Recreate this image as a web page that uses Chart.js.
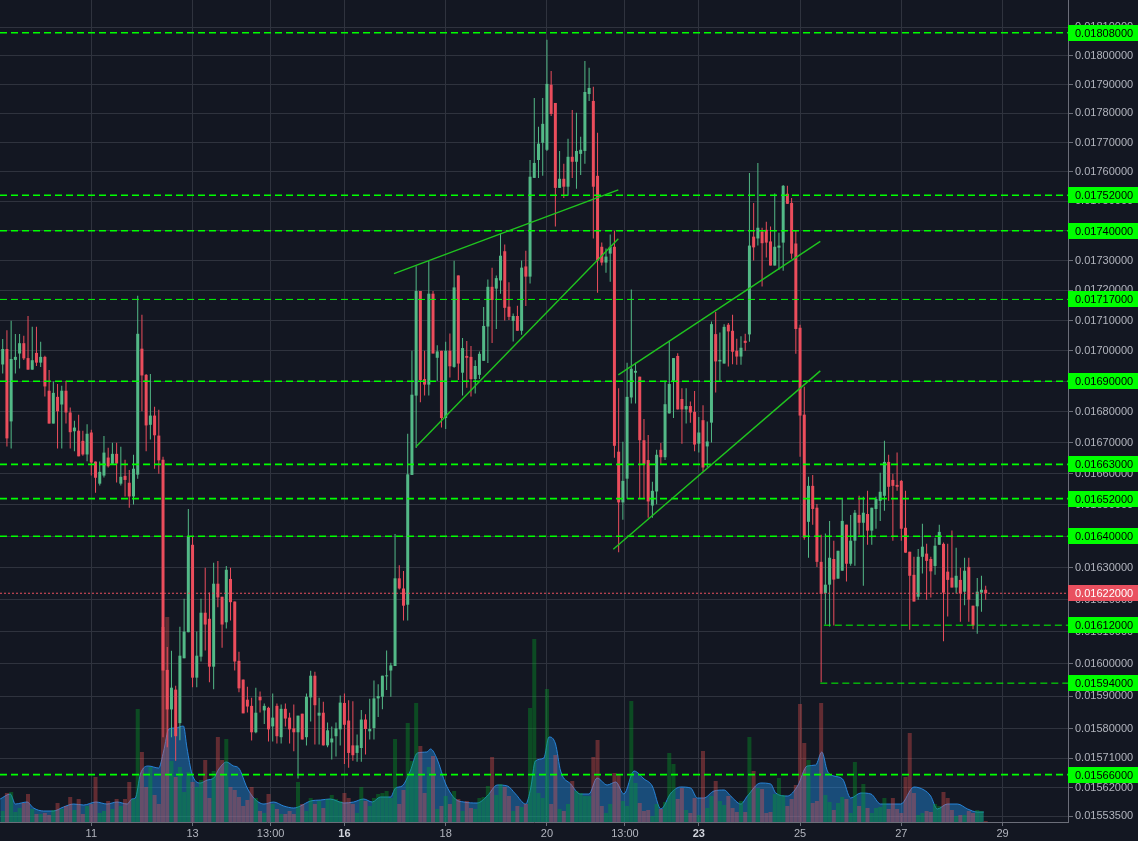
<!DOCTYPE html>
<html lang="en">
<head>
<meta charset="utf-8">
<title>Candles</title>
<script src="https://cdn.jsdelivr.net/npm/chart.js@4.4.1/dist/chart.umd.min.js"></script>
<style>
  html, body { margin: 0; padding: 0; background: #131722; overflow: hidden; }
  #chart { display: block; }
</style>
</head>
<body>
<canvas id="chart" width="1138" height="841"></canvas>
<script>
// -------------- DATA ------------------

// 2h candles, the first one opens on day 9 at 06:00
const firstCandleDay = 9.25;
const candleStep = 1 / 12;

// [open, high, low, close]
const ohlc = [
  [0.016955,0.017039,0.016925,0.017006], [0.017006,0.017068,0.016688,0.016714], [0.016769,0.017099,0.016681,0.016973],
  [0.016970,0.017055,0.016925,0.016980], [0.016991,0.017055,0.016942,0.017025], [0.017025,0.017050,0.016970,0.016975],
  [0.016976,0.017115,0.016938,0.016938], [0.016938,0.017079,0.016938,0.016969], [0.016993,0.017079,0.016950,0.016961],
  [0.016961,0.017030,0.016947,0.016980], [0.016980,0.016984,0.016850,0.016883], [0.016869,0.016937,0.016762,0.016762],
  [0.016762,0.016899,0.016762,0.016862], [0.016849,0.016891,0.016681,0.016802], [0.016824,0.016885,0.016681,0.016869],
  [0.016869,0.016902,0.016762,0.016798], [0.016798,0.016814,0.016681,0.016734], [0.016737,0.016771,0.016672,0.016749],
  [0.016739,0.016791,0.016656,0.016656], [0.016706,0.016739,0.016658,0.016662], [0.016662,0.016760,0.016640,0.016729],
  [0.016733,0.016742,0.016594,0.016636], [0.016639,0.016639,0.016539,0.016587], [0.016568,0.016639,0.016562,0.016606],
  [0.016594,0.016722,0.016588,0.016668], [0.016652,0.016684,0.016620,0.016624], [0.016632,0.016700,0.016629,0.016664],
  [0.016664,0.016700,0.016572,0.016633], [0.016568,0.016687,0.016562,0.016590], [0.016593,0.016645,0.016527,0.016580],
  [0.016571,0.016612,0.016491,0.016527], [0.016527,0.016661,0.016501,0.016616], [0.016597,0.017182,0.016584,0.017056],
  [0.017007,0.017119,0.016802,0.016919], [0.016921,0.016924,0.016672,0.016756], [0.016758,0.016924,0.016710,0.016788],
  [0.016788,0.016817,0.016616,0.016724], [0.016723,0.016807,0.016600,0.016643], [0.016645,0.016655,0.015774,0.015979],
  [0.015981,0.016052,0.015743,0.015859], [0.015859,0.016040,0.015774,0.015926], [0.015920,0.015932,0.015702,0.015777],
  [0.015817,0.016115,0.015765,0.016025], [0.016017,0.016203,0.016017,0.016100], [0.016098,0.016487,0.016098,0.016399],
  [0.016373,0.016399,0.015927,0.015957], [0.015957,0.016100,0.015927,0.016025], [0.016022,0.016203,0.016007,0.016159],
  [0.016159,0.016300,0.016041,0.016122], [0.016140,0.016222,0.015943,0.015991], [0.015991,0.016316,0.015921,0.016250],
  [0.016250,0.016322,0.016176,0.016207], [0.016209,0.016209,0.016050,0.016122], [0.016129,0.016306,0.016110,0.016294],
  [0.016265,0.016300,0.016135,0.016192], [0.016194,0.016194,0.015979,0.016007], [0.016009,0.016037,0.015912,0.015924],
  [0.015951,0.015951,0.015847,0.015847], [0.015889,0.015929,0.015850,0.015868], [0.015870,0.015895,0.015764,0.015789],
  [0.015789,0.015926,0.015786,0.015849], [0.015898,0.015914,0.015850,0.015887], [0.015856,0.015877,0.015814,0.015870],
  [0.015864,0.015867,0.015761,0.015798], [0.015807,0.015908,0.015761,0.015834], [0.015870,0.015877,0.015755,0.015777],
  [0.015774,0.015874,0.015755,0.015861], [0.015861,0.015877,0.015807,0.015831], [0.015834,0.015849,0.015755,0.015798],
  [0.015801,0.015874,0.015731,0.015789], [0.015789,0.015840,0.015648,0.015840], [0.015846,0.015846,0.015767,0.015767],
  [0.015774,0.015908,0.015749,0.015898], [0.015896,0.015978,0.015822,0.015963], [0.015963,0.015975,0.015752,0.015872],
  [0.015840,0.015895,0.015752,0.015849], [0.015849,0.015883,0.015749,0.015749], [0.015749,0.015819,0.015743,0.015795],
  [0.015758,0.015807,0.015706,0.015770], [0.015777,0.015819,0.015715,0.015801], [0.015798,0.015902,0.015749,0.015880],
  [0.015879,0.015908,0.015692,0.015812], [0.015825,0.015887,0.015681,0.015726], [0.015749,0.015884,0.015702,0.015719],
  [0.015726,0.015782,0.015699,0.015749], [0.015741,0.015857,0.015699,0.015828], [0.015828,0.015844,0.015721,0.015799],
  [0.015792,0.015892,0.015767,0.015799], [0.015802,0.015948,0.015767,0.015893], [0.015893,0.015937,0.015836,0.015900],
  [0.015898,0.015963,0.015860,0.015963], [0.015961,0.016041,0.015919,0.015963], [0.015979,0.016003,0.015898,0.015995],
  [0.015993,0.016407,0.015993,0.016267], [0.016267,0.016308,0.016232,0.016235], [0.016235,0.016290,0.016135,0.016181],
  [0.016184,0.016729,0.016135,0.016598], [0.016596,0.017000,0.016596,0.016856], [0.016853,0.017281,0.016683,0.017198],
  [0.017198,0.017198,0.016831,0.016904], [0.016907,0.017000,0.016853,0.016889], [0.016889,0.017299,0.016853,0.017189],
  [0.017189,0.017198,0.016991,0.016991], [0.016977,0.017018,0.016901,0.016998], [0.017000,0.017000,0.016749,0.016780],
  [0.016780,0.017030,0.016744,0.017000], [0.017000,0.017057,0.016912,0.016949], [0.016947,0.017299,0.016944,0.017210],
  [0.017250,0.017250,0.016904,0.016958], [0.016928,0.017042,0.016853,0.017009], [0.016983,0.017032,0.016879,0.016977],
  [0.016980,0.017016,0.016850,0.016907], [0.016907,0.016969,0.016860,0.016950], [0.016921,0.016998,0.016907,0.016990],
  [0.016967,0.017145,0.016967,0.017082], [0.017080,0.017236,0.016960,0.017212], [0.017212,0.017276,0.017026,0.017168],
  [0.017206,0.017250,0.017072,0.017241], [0.017233,0.017391,0.017189,0.017316], [0.017331,0.017354,0.017100,0.017142],
  [0.017146,0.017227,0.017102,0.017112], [0.017099,0.017123,0.017031,0.017115], [0.017115,0.017149,0.017066,0.017066],
  [0.017066,0.017300,0.017053,0.017276], [0.017280,0.017333,0.017148,0.017246], [0.017246,0.017640,0.017223,0.017583],
  [0.017579,0.017853,0.017579,0.017630], [0.017640,0.017754,0.017579,0.017696], [0.017699,0.017853,0.017586,0.017764],
  [0.017675,0.018056,0.017671,0.017902], [0.017899,0.017947,0.017791,0.017798], [0.017836,0.017836,0.017414,0.017545],
  [0.017545,0.017671,0.017545,0.017576], [0.017576,0.017627,0.017511,0.017549], [0.017549,0.017713,0.017518,0.017651],
  [0.017651,0.017812,0.017579,0.017634], [0.017634,0.017802,0.017542,0.017671], [0.017661,0.017720,0.017589,0.017675],
  [0.017671,0.017982,0.017627,0.017874], [0.017867,0.017958,0.017843,0.017888], [0.017843,0.017892,0.017374,0.017549],
  [0.017586,0.017733,0.017192,0.017300], [0.017346,0.017360,0.017283,0.017293], [0.017293,0.017340,0.017259,0.017313],
  [0.017323,0.017387,0.017229,0.017346], [0.017346,0.017400,0.016651,0.016690], [0.016671,0.016877,0.016349,0.016508],
  [0.016508,0.016703,0.016453,0.016577], [0.016584,0.016961,0.016520,0.016849], [0.016847,0.017203,0.016827,0.016941],
  [0.016928,0.016961,0.016827,0.016934], [0.016915,0.016915,0.016520,0.016708], [0.016708,0.016777,0.016520,0.016630],
  [0.016644,0.016725,0.016459,0.016511], [0.016498,0.016574,0.016459,0.016545], [0.016543,0.016677,0.016502,0.016661],
  [0.016677,0.016699,0.016629,0.016653], [0.016653,0.016902,0.016644,0.016825], [0.016795,0.017033,0.016795,0.016891],
  [0.016902,0.016976,0.016780,0.016976], [0.016983,0.016992,0.016808,0.016808], [0.016842,0.016877,0.016697,0.016808],
  [0.016808,0.016877,0.016762,0.016819], [0.016819,0.016834,0.016765,0.016798], [0.016800,0.016868,0.016672,0.016694],
  [0.016697,0.016783,0.016668,0.016733], [0.016773,0.016822,0.016607,0.016620], [0.016688,0.016769,0.016620,0.016704],
  [0.016765,0.017097,0.016701,0.017088], [0.017055,0.017128,0.016863,0.016965], [0.016965,0.017060,0.016902,0.016970],
  [0.016958,0.017088,0.016958,0.017079], [0.017086,0.017092,0.016948,0.017064], [0.017066,0.017119,0.016956,0.016997],
  [0.017000,0.017040,0.016954,0.016981], [0.016981,0.017048,0.016954,0.017010], [0.017033,0.017056,0.017000,0.017026],
  [0.017054,0.017596,0.017030,0.017350], [0.017380,0.017494,0.017300,0.017344], [0.017374,0.017630,0.017350,0.017410],
  [0.017397,0.017410,0.017213,0.017358], [0.017403,0.017430,0.017310,0.017360], [0.017364,0.017414,0.017283,0.017283],
  [0.017283,0.017526,0.017283,0.017346], [0.017343,0.017393,0.017269,0.017350], [0.017360,0.017555,0.017266,0.017552],
  [0.017525,0.017552,0.017490,0.017491], [0.017494,0.017511,0.017306,0.017323], [0.017357,0.017400,0.016990,0.017072],
  [0.017076,0.017086,0.016655,0.016788], [0.016791,0.016882,0.016389,0.016396], [0.016446,0.016590,0.016332,0.016561],
  [0.016561,0.016596,0.016437,0.016487], [0.016491,0.016503,0.016303,0.016319], [0.016319,0.016405,0.015943,0.016218],
  [0.016220,0.016409,0.016122,0.016247], [0.016247,0.016449,0.016116,0.016332], [0.016328,0.016386,0.016119,0.016263],
  [0.016266,0.016354,0.016266,0.016354], [0.016291,0.016522,0.016291,0.016449], [0.016437,0.016437,0.016257,0.016313],
  [0.016313,0.016468,0.016307,0.016386], [0.016386,0.016484,0.016307,0.016475], [0.016468,0.016529,0.016405,0.016443],
  [0.016443,0.016526,0.016244,0.016475], [0.016471,0.016545,0.016373,0.016418], [0.016418,0.016491,0.016373,0.016491],
  [0.016487,0.016526,0.016424,0.016519], [0.016513,0.016603,0.016449,0.016542], [0.016529,0.016706,0.016481,0.016638],
  [0.016638,0.016661,0.016513,0.016558], [0.016580,0.016600,0.016386,0.016561], [0.016564,0.016668,0.016545,0.016558],
  [0.016577,0.016580,0.016386,0.016424], [0.016427,0.016545,0.016348,0.016348], [0.016351,0.016351,0.016106,0.016275],
  [0.016278,0.016335,0.016194,0.016194], [0.016209,0.016360,0.016200,0.016335], [0.016335,0.016440,0.016282,0.016367],
  [0.016345,0.016376,0.016200,0.016322], [0.016328,0.016335,0.016207,0.016289], [0.016306,0.016395,0.016278,0.016370],
  [0.016373,0.016437,0.016373,0.016414], [0.016376,0.016380,0.016070,0.016222], [0.016288,0.016376,0.016147,0.016262],
  [0.016269,0.016418,0.016238,0.016238], [0.016238,0.016364,0.016219,0.016275], [0.016262,0.016300,0.016131,0.016219],
  [0.016225,0.016332,0.016182,0.016291], [0.016303,0.016332,0.016131,0.016200], [0.016181,0.016181,0.016107,0.016119],
  [0.016179,0.016268,0.016093,0.016225], [0.016222,0.016275,0.016162,0.016231], [0.016231,0.016244,0.016200,0.016220]
];

// volume per candle (arbitrary units)
const volumes = [
  11, 29, 30, 10, 14, 19, 28, 13, 8, 8,
  9, 7, 12, 19, 13, 16, 25, 12, 23, 8,
  16, 18, 45, 9, 11, 21, 13, 23, 16, 23,
  40, 23, 113, 70, 35, 55, 27, 18, 195, 205,
  61, 45, 55, 30, 50, 40, 35, 42, 62, 24,
  51, 85, 62, 83, 35, 32, 25, 16, 22, 35,
  24, 11, 9, 28, 18, 13, 8, 8, 11, 8,
  40, 18, 11, 24, 18, 21, 14, 23, 27, 23,
  21, 29, 24, 18, 9, 35, 21, 16, 24, 28,
  29, 31, 24, 83, 18, 32, 99, 61, 119, 76,
  29, 55, 66, 13, 16, 26, 18, 31, 23, 11,
  21, 14, 13, 24, 25, 36, 65, 27, 38, 35,
  26, 11, 16, 15, 18, 114, 183, 29, 24, 133,
  18, 67, 13, 11, 18, 41, 31, 29, 26, 26,
  65, 82, 16, 9, 18, 49, 47, 21, 16, 121,
  39, 19, 11, 12, 6, 18, 13, 20, 69, 58,
  23, 34, 12, 9, 24, 7, 71, 14, 26, 41,
  21, 17, 26, 14, 10, 21, 10, 85, 51, 34,
  33, 9, 10, 28, 44, 27, 16, 23, 37, 118,
  79, 62, 19, 21, 119, 27, 20, 12, 19, 25,
  23, 9, 60, 16, 38, 14, 9, 14, 15, 24,
  13, 24, 13, 9, 45, 89, 29, 7, 9, 11,
  10, 18, 16, 30, 24, 12, 6, 7, 7, 11,
  9, 12, 11, 1
];

// smoothed volume (blue area), read at these days
const volAvgDays = [
  9.20, 9.40, 9.50, 9.73, 9.86, 10.06, 10.25, 10.45, 10.65, 10.85,
  11.09, 11.31, 11.51, 11.71, 11.80, 11.87, 11.97, 12.13, 12.33, 12.43,
  12.53, 12.66, 12.82, 12.89, 12.99, 13.15, 13.29, 13.42, 13.52, 13.67,
  13.81, 13.91, 14.08, 14.21, 14.41, 14.60, 14.80, 15.00, 15.13, 15.33,
  15.53, 15.72, 15.99, 16.18, 16.38, 16.55, 16.71, 16.91, 17.01, 17.14,
  17.30, 17.44, 17.63, 17.70, 17.83, 18.00, 18.19, 18.36, 18.62, 18.82,
  19.02, 19.22, 19.38, 19.58, 19.68, 19.77, 19.94, 20.04, 20.17, 20.27,
  20.47, 20.66, 20.83, 20.99, 21.19, 21.36, 21.52, 21.72, 21.92, 22.08,
  22.25, 22.45, 22.64, 22.84, 22.97, 23.10, 23.30, 23.50, 23.63, 23.83,
  23.96, 24.22, 24.42, 24.52, 24.75, 24.95, 25.14, 25.31, 25.43, 25.54,
  25.67, 25.84, 26.00, 26.20, 26.40, 26.59, 26.79, 26.99, 27.25, 27.45,
  27.58, 27.71, 27.91, 28.11, 28.31, 28.50, 28.63
];
const volAvgValues = [
  23, 28, 18, 20, 14, 11, 11, 15, 18, 17,
  20, 18, 20, 18, 23, 24, 48, 56, 54, 71,
  93, 94, 96, 74, 48, 39, 42, 44, 53, 60,
  56, 54, 34, 24, 18, 20, 16, 14, 16, 21,
  22, 23, 19, 20, 23, 20, 25, 25, 34, 36,
  51, 69, 70, 73, 63, 38, 23, 20, 19, 26,
  37, 36, 28, 18, 34, 61, 64, 85, 78, 51,
  38, 28, 28, 44, 37, 40, 28, 51, 43, 36,
  13, 29, 35, 34, 24, 24, 31, 32, 26, 18,
  26, 39, 38, 29, 26, 36, 56, 57, 70, 51,
  46, 43, 24, 29, 28, 18, 18, 18, 35, 32,
  26, 13, 18, 18, 13, 10, 10
];

// horizontal price levels, most run across the whole chart
const levels = [0.01808, 0.01752, 0.01740, 0.01717, 0.01690, 0.01663, 0.01652, 0.01640, 0.01612, 0.01594, 0.01566];
const levelStartDays = [null, null, null, null, null, null, null, null, 25.47, 25.40, null];
const lastPrice = 0.01622;

// trend lines, [day, price] at each end
const trendStarts = [[16.979, 0.017256], [17.414, 0.016687], [21.410, 0.016921], [21.311, 0.016359]];
const trendEnds = [[21.410, 0.017538], [21.410, 0.017373], [25.400, 0.017364], [25.400, 0.016934]];

// axes
const dayTicks = [11, 13, 14 + 13 / 24, 16, 18, 20, 21 + 13 / 24, 23, 25, 27, 29];
const dayLabels = ["11", "13", "13:00", "16", "18", "20", "13:00", "23", "25", "27", "29"];
const boldDayLabels = ["16", "23"];
const priceTicks = [
  0.0181, 0.0180, 0.0179, 0.0178, 0.0177, 0.0176, 0.0175, 0.0174, 0.0173, 0.0172,
  0.0171, 0.0170, 0.0169, 0.0168, 0.0167, 0.0166, 0.0165, 0.0164, 0.0163, 0.0162,
  0.0161, 0.0160, 0.0159, 0.0158, 0.01571, 0.01562, 0.015535
];


// -------------- STYLE ------------------

const FONT = "'Liberation Sans', Arial, sans-serif";
const BG = "#131722";
const GRID = "#2f333e";
const AXIS = "#6b6e79";
const TEXT = "#b2b5be";
const UP = "#53b987";
const DOWN = "#eb4d5c";
const VOL_UP = "rgba(0, 170, 40, 0.36)";
const VOL_DOWN = "rgba(239, 83, 80, 0.36)";
const LEVEL = "#00ff00";
const thinLevels = [0.01717, 0.01612, 0.01594];

Chart.defaults.font.family = FONT;


// -------------- BUILD ------------------

const candleDays = ohlc.map((_, i) => firstCandleDay + i * candleStep);
const isUp = ohlc.map(c => c[3] >= c[0]);
const candleColors = isUp.map(u => (u ? UP : DOWN));

const xMin = 9.1965;
const xMax = 30.2928;

const levelSets = levels.map((v, i) => ({
  type: "line",
  data: [{ x: levelStartDays[i] ?? xMin, y: v }, { x: xMax, y: v }],
  borderColor: LEVEL,
  borderWidth: thinLevels.includes(v) ? 1 : 1.6,
  borderDash: [7, 4],
  pointRadius: 0,
  order: 2,
}));

const trendSets = trendStarts.map((s, i) => ({
  type: "line",
  data: [{ x: s[0], y: s[1] }, { x: trendEnds[i][0], y: trendEnds[i][1] }],
  borderColor: "#1fc41f",
  borderWidth: 1.4,
  pointRadius: 0,
  order: 1,
}));

const background = {
  id: "background",
  beforeDraw(chart) {
    const c = chart.ctx;
    c.save();
    c.fillStyle = BG;
    c.fillRect(0, 0, chart.width, chart.height);
    c.restore();
  },
};

// price tags on the right axis
const priceTags = {
  id: "priceTags",
  afterDraw(chart) {
    const { ctx: c, chartArea, scales } = chart;
    const w = chart.width - chartArea.right;
    c.save();
    c.font = "11px " + FONT;
    c.textBaseline = "middle";
    c.textAlign = "left";
    const tag = (value, bg, fg) => {
      const y = Math.round(scales.y.getPixelForValue(value));
      c.fillStyle = bg;
      c.fillRect(chartArea.right, y - 8, w, 16);
      c.fillStyle = fg;
      c.fillText(value.toFixed(8), chartArea.right + 7, y + 0.5);
    };
    levels.forEach(v => tag(v, LEVEL, "#000000"));
    tag(lastPrice, "#e9505f", "#ffffff");
    c.restore();
  },
};


// ------------ CREATE CHART ------------------

new Chart(document.getElementById("chart"), {
  type: "bar",
  data: {
    datasets: [
      {
        label: "wicks",
        data: ohlc.map((c, i) => ({ x: candleDays[i], y: [c[2], c[1]] })),
        backgroundColor: candleColors,
        barThickness: 1,
        grouped: false,
        inflateAmount: 0,
        order: 4,
      },
      {
        label: "bodies",
        data: ohlc.map((c, i) => ({ x: candleDays[i], y: [c[0], c[3]] })),
        backgroundColor: candleColors,
        barThickness: 3,
        minBarLength: 1,
        grouped: false,
        inflateAmount: 0,
        order: 3,
      },
      {
        label: "volume",
        yAxisID: "yv",
        data: volumes.map((v, i) => ({ x: candleDays[i], y: v })),
        backgroundColor: isUp.map(u => (u ? VOL_UP : VOL_DOWN)),
        barThickness: 4,
        grouped: false,
        inflateAmount: 0,
        order: 9,
      },
      {
        type: "line",
        label: "volume average",
        yAxisID: "yv",
        data: volAvgDays.map((d, i) => ({ x: d, y: volAvgValues[i] })),
        fill: "origin",
        backgroundColor: "rgba(33, 150, 243, 0.42)",
        borderColor: "rgba(41, 140, 230, 0.9)",
        borderWidth: 1,
        pointRadius: 0,
        cubicInterpolationMode: "monotone",
        order: 10,
      },
      ...levelSets,
      {
        type: "line",
        label: "last price",
        data: [{ x: xMin, y: lastPrice }, { x: xMax, y: lastPrice }],
        borderColor: "#e9505f",
        borderWidth: 1,
        borderDash: [2, 2],
        pointRadius: 0,
        order: 2,
      },
      ...trendSets,
    ],
  },
  options: {
    responsive: false,
    animation: false,
    events: [],
    layout: { padding: 0 },
    plugins: {
      legend: { display: false },
      tooltip: { enabled: false },
    },
    scales: {
      x: {
        type: "linear",
        bounds: "data",
        min: xMin,
        max: xMax,
        offset: false,
        afterBuildTicks: s => { s.ticks = dayTicks.map(v => ({ value: v })); },
        afterFit: s => {
          s.height = 19;
          s.paddingLeft = 0;
          s.paddingRight = 0;
        },
        grid: { color: GRID, offset: false, tickLength: 4, tickColor: AXIS },
        border: { color: AXIS },
        ticks: {
          autoSkip: false,
          maxRotation: 0,
          padding: 1,
          callback: (v, i) => dayLabels[i],
          color: ctx => (boldDayLabels.includes(dayLabels[ctx.index]) ? "#d1d4dc" : TEXT),
          font: ctx => ({
            family: FONT,
            size: 11,
            weight: boldDayLabels.includes(dayLabels[ctx.index]) ? "bold" : "normal",
          }),
        },
      },
      y: {
        type: "logarithmic",
        position: "right",
        bounds: "data",
        min: 0.015517,
        max: 0.0181953,
        afterBuildTicks: s => { s.ticks = priceTicks.map(v => ({ value: v })); },
        afterFit: s => {
          s.width = 70;
          s.paddingTop = 0;
          s.paddingBottom = 0;
        },
        grid: { color: GRID, tickLength: 5, tickColor: AXIS },
        border: { color: AXIS },
        ticks: {
          autoSkip: false,
          padding: 2,
          color: TEXT,
          font: { family: FONT, size: 11 },
          callback: v => Number(v).toFixed(8),
        },
      },
      yv: {
        type: "linear",
        display: false,
        min: 0,
        max: 822,
      },
    },
  },
  plugins: [background, priceTags],
});
</script>
</body>
</html>
